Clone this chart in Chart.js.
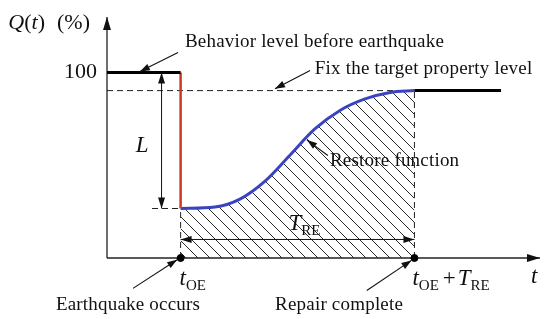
<!DOCTYPE html>
<html><head><meta charset="utf-8">
<script src="https://cdn.jsdelivr.net/npm/chart.js@4/dist/chart.umd.min.js"></script>
<style>html,body{margin:0;padding:0;background:#fff}#wrap{width:550px;height:319px;position:relative}</style>
</head><body><div id="wrap"><canvas id="c"></canvas></div>
<script>
// ---- data (time units / Q in %) ----
const tOE = 17;            // earthquake occurs
const tRepair = 71;        // tOE + TRE, repair complete
const tEnd = 91;           // end of drawn post-repair level
const levelBefore = 100;   // behaviour level before earthquake
const levelTarget = 90.3;  // fixed target property level
const levelDrop = 26.7;    // level right after earthquake
const restoreT = [17, 24.9, 30.7, 36.5, 42.3, 48.0, 53.8, 59.6, 65.4, 71];
const restoreQ = [26.7, 27.5, 31.8, 41.5, 55.6, 69.6, 79.6, 85.8, 89.3, 90.3];
const xMax = 100, yMax = 130;
const yTickLabels = ['100'];
const noteTexts = ['Behavior level before earthquake', 'Fix the target property level', 'Restore function', 'Earthquake occurs', 'Repair complete'];

const pts = (xs, ys) => xs.map((x, i) => ({x, y: ys[i]}));
const SERIF = '"Liberation Serif", "DejaVu Serif", serif';

const ctxMain = document.getElementById('c').getContext('2d');
function makeHatch() {
  const s = 12, c = document.createElement('canvas');
  c.width = s; c.height = s;
  const g = c.getContext('2d');
  g.strokeStyle = '#2a2a2a'; g.lineWidth = 1;
  g.beginPath();
  g.moveTo(-2, -2); g.lineTo(s + 2, s + 2);
  g.moveTo(-2, s - 2); g.lineTo(2, s + 2);
  g.moveTo(s - 2, -2); g.lineTo(s + 2, 2);
  g.stroke();
  return ctxMain.createPattern(c, 'repeat');
}

function arrowHead(ctx, x1, y1, x2, y2, len, hw) {
  const a = Math.atan2(y2 - y1, x2 - x1);
  ctx.beginPath();
  ctx.moveTo(x2, y2);
  ctx.lineTo(x2 - len * Math.cos(a) + hw * Math.sin(a), y2 - len * Math.sin(a) - hw * Math.cos(a));
  ctx.lineTo(x2 - len * Math.cos(a) - hw * Math.sin(a), y2 - len * Math.sin(a) + hw * Math.cos(a));
  ctx.closePath(); ctx.fill();
}
function arrow(ctx, x1, y1, x2, y2, len, hw, both) {
  ctx.beginPath(); ctx.moveTo(x1, y1); ctx.lineTo(x2, y2); ctx.stroke();
  arrowHead(ctx, x1, y1, x2, y2, len, hw);
  if (both) arrowHead(ctx, x2, y2, x1, y1, len, hw);
}
// rich text: segments {t, it, sub}
function rich(ctx, segs, x, y, size, align) {
  const fontOf = s => (s.it ? 'italic ' : '') + (s.sub ? Math.round(size * 0.66) : size) + 'px ' + SERIF;
  let w = 0;
  segs.forEach(s => { ctx.font = fontOf(s); w += ctx.measureText(s.t).width + (s.gap || 0); });
  let cx = align === 'center' ? x - w / 2 : align === 'right' ? x - w : x;
  ctx.textBaseline = 'alphabetic'; ctx.textAlign = 'left';
  segs.forEach(s => {
    ctx.font = fontOf(s);
    ctx.fillText(s.t, cx, y + (s.sub ? size * 0.22 : 0));
    cx += ctx.measureText(s.t).width + (s.gap || 0);
  });
}

const overlay = {
  id: 'overlay',
  beforeDatasetsDraw(chart) {
    const {ctx, scales: {x, y}} = chart;
    const x0 = x.getPixelForValue(0), y0 = y.getPixelForValue(0);
    const xe = x.getPixelForValue(xMax), ye = y.getPixelForValue(yMax);
    ctx.save();
    ctx.strokeStyle = '#222'; ctx.fillStyle = '#111'; ctx.lineWidth = 1.3;
    arrow(ctx, x0, y0, x0, ye, 13, 4);
    arrow(ctx, x0, y0, xe, y0, 13, 4);
    ctx.restore();
  },
  afterDraw(chart) {
    const {ctx, scales: {x, y}} = chart;
    const px = v => x.getPixelForValue(v), py = v => y.getPixelForValue(v);
    ctx.save();
    ctx.strokeStyle = '#111'; ctx.fillStyle = '#111'; ctx.lineWidth = 1;
    // dimension arrows
    arrow(ctx, px(12.6), py(levelBefore), px(12.6), py(levelDrop), 11, 3.5, true);
    arrow(ctx, px(tOE), py(10), px(tRepair), py(10), 11, 3.5, true);
    // note arrows
    ctx.lineWidth = 1.1;
    arrow(ctx, px(16.4), py(110.8), px(7.6), py(100.6), 10, 3.5);
    arrow(ctx, px(46.9), py(101.1), px(38.8), py(91.3), 10, 3.5);
    arrow(ctx, px(51.0), py(55.3), px(46.2), py(63.6), 10, 3.5);
    arrow(ctx, px(6.0), py(-16.4), px(16.2), py(-0.9), 10, 3.5);
    arrow(ctx, px(60.0), py(-17.5), px(70.3), py(-1.3), 10, 3.5);
    // texts
    ctx.font = '19px ' + SERIF; ctx.textBaseline = 'middle';
    try { ctx.letterSpacing = '0.2px'; } catch (e) {}
    ctx.textAlign = 'left';
    ctx.fillText(noteTexts[0], px(18.0), py(116.7));
    ctx.fillText(noteTexts[1], px(48.0), py(102.2));
    ctx.fillText(noteTexts[2], px(51.5), py(52.3));
    ctx.textAlign = 'center';
    ctx.fillText(noteTexts[3], px(4.85), py(-25.1));
    ctx.fillText(noteTexts[4], px(53.6), py(-25.1));
    try { ctx.letterSpacing = '0px'; } catch (e) {}
    // axis labels
    rich(ctx, [{t: 'Q', it: true}, {t: '('}, {t: 't', it: true}, {t: ')', gap: 12}, {t: '(%)'}], px(0) - 17, py(yMax) + 12, 22, 'right');
    ctx.font = '22px ' + SERIF; ctx.textAlign = 'right'; ctx.textBaseline = 'middle';
    ctx.fillText(yTickLabels[0], px(0) - 10, py(levelBefore));
    rich(ctx, [{t: 't', it: true}, {t: 'OE', sub: true}], px(tOE) - 1, py(0) + 27, 23, 'left');
    rich(ctx, [{t: 't', it: true}, {t: 'OE', sub: true, gap: 4}, {t: '+', gap: 2}, {t: 'T', it: true}, {t: 'RE', sub: true}], px(tRepair) - 2, py(0) + 27, 23, 'left');
    rich(ctx, [{t: 't', it: true}], px(xMax) - 9, py(0) + 25, 23, 'left');
    rich(ctx, [{t: 'L', it: true}], px(8.1), py(61.7) + 8, 23, 'center');
    rich(ctx, [{t: 'T', it: true}, {t: 'RE', sub: true}], px(45.6), py(19.1) + 7, 23, 'center');
    ctx.restore();
  }
};

const dashed = {borderColor: '#222', borderWidth: 1, borderDash: [6, 4], showLine: true, pointRadius: 0};
new Chart(ctxMain, {
  type: 'scatter',
  data: {
    datasets: [
      {data: pts([tOE, tRepair], [0, 0]), pointRadius: 3.5, backgroundColor: '#000', borderColor: '#000', showLine: false, clip: false, order: 0},
      {data: pts([0, tOE], [levelBefore, levelBefore]), borderColor: '#000', borderWidth: 3, showLine: true, pointRadius: 0, order: 1},
      {data: pts([tOE, tOE], [levelBefore, levelDrop]), borderColor: '#cc3a22', borderWidth: 2.5, showLine: true, pointRadius: 0, order: 1},
      {data: pts([tRepair, tEnd], [levelTarget, levelTarget]), borderColor: '#000', borderWidth: 3, showLine: true, pointRadius: 0, order: 1},
      {data: pts(restoreT, restoreQ), borderColor: '#3b44c0', borderWidth: 3, showLine: true, pointRadius: 0,
       cubicInterpolationMode: 'monotone', fill: 'origin', backgroundColor: makeHatch(), order: 2},
      Object.assign({data: pts([0, tRepair], [levelTarget, levelTarget]), order: 3}, dashed),
      Object.assign({data: pts([tOE, tOE], [0, levelDrop]), order: 3}, dashed),
      Object.assign({data: pts([tRepair, tRepair], [0, levelTarget]), order: 3}, dashed),
      Object.assign({data: pts([10.4, tOE], [levelDrop, levelDrop]), order: 3}, dashed)
    ]
  },
  options: {
    responsive: true, maintainAspectRatio: false, animation: false,
    layout: {padding: {left: 107, right: 10, top: 17, bottom: 61}},
    scales: {
      x: {type: 'linear', min: 0, max: xMax, display: false},
      y: {type: 'linear', min: 0, max: yMax, display: false}
    },
    plugins: {legend: {display: false}, tooltip: {enabled: false}}
  },
  plugins: [overlay]
});
</script></body></html>
